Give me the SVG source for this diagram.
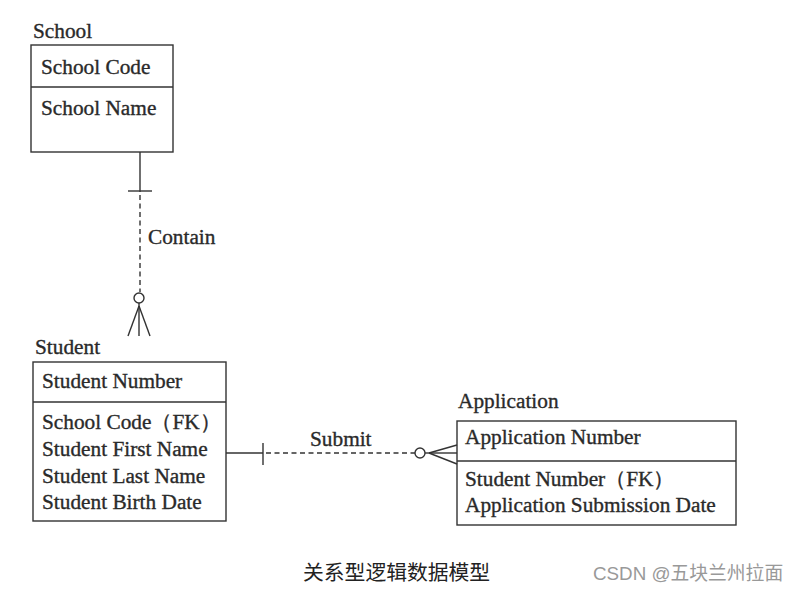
<svg xmlns="http://www.w3.org/2000/svg" width="800" height="592" viewBox="0 0 800 592">
<style>
.t{font-family:'Liberation Serif',serif;font-size:21.3px;fill:#2a2a2a;stroke:#2a2a2a;stroke-width:0.35}
.box{fill:#fff;stroke:#333;stroke-width:1.4}
.ln{stroke:#333;stroke-width:1.4;fill:none}
.dash{stroke:#333;stroke-width:1.4;fill:none;stroke-dasharray:5,3.5}
.cap{font-family:'Noto Sans CJK SC',sans-serif;font-size:20.8px;fill:#222}
.wm{font-family:'Liberation Sans','Noto Sans CJK SC',sans-serif;font-size:18.8px;fill:#999}
</style>
<rect width="800" height="592" fill="#fff"/>
<g id="school">
<text class="t" x="33" y="38">School</text>
<rect class="box" x="31" y="45" width="142" height="107"/>
<line class="ln" x1="31" y1="87" x2="173" y2="87"/>
<text class="t" x="41" y="74">School Code</text>
<text class="t" x="41" y="115">School Name</text>
</g>
<g id="student">
<text class="t" x="35" y="354">Student</text>
<rect class="box" x="33" y="362" width="193" height="159"/>
<line class="ln" x1="33" y1="402" x2="226" y2="402"/>
<text class="t" x="42" y="388">Student Number</text>
<text class="t" x="42" y="429">School Code（FK）</text>
<text class="t" x="42" y="456">Student First Name</text>
<text class="t" x="42" y="483">Student Last Name</text>
<text class="t" x="42" y="509">Student Birth Date</text>
</g>
<g id="application">
<text class="t" x="458" y="408">Application</text>
<rect class="box" x="457" y="421" width="279" height="104"/>
<line class="ln" x1="457" y1="461" x2="736" y2="461"/>
<text class="t" x="465" y="444">Application Number</text>
<text class="t" x="465" y="486">Student Number（FK）</text>
<text class="t" x="465" y="512">Application Submission Date</text>
</g>
<g id="connectors">
<g id="contain">
<line class="ln" x1="140" y1="152" x2="140" y2="192"/>
<line class="ln" x1="128" y1="191" x2="152" y2="191"/>
<line class="dash" x1="140" y1="195" x2="140" y2="292"/>
<circle class="ln" cx="139" cy="298" r="5"/>
<line class="ln" x1="139" y1="303" x2="139" y2="336"/>
<line class="ln" x1="139" y1="306" x2="128" y2="336"/>
<line class="ln" x1="139" y1="306" x2="150" y2="336"/>
<text class="t" x="148" y="244">Contain</text>
</g>
<g id="submit">
<line class="ln" x1="226" y1="453" x2="263" y2="453"/>
<line class="ln" x1="263" y1="443" x2="263" y2="465"/>
<line class="dash" x1="266" y1="453" x2="415" y2="453"/>
<circle class="ln" cx="420" cy="453" r="5"/>
<line class="ln" x1="425" y1="453" x2="457" y2="453"/>
<line class="ln" x1="429" y1="453" x2="457" y2="445"/>
<line class="ln" x1="429" y1="453" x2="457" y2="464"/>
<text class="t" x="310" y="446">Submit</text>
</g>
</g>
<text class="cap" x="303" y="580">关系型逻辑数据模型</text>
<text class="wm" x="593" y="580">CSDN @五块兰州拉面</text>
</svg>
